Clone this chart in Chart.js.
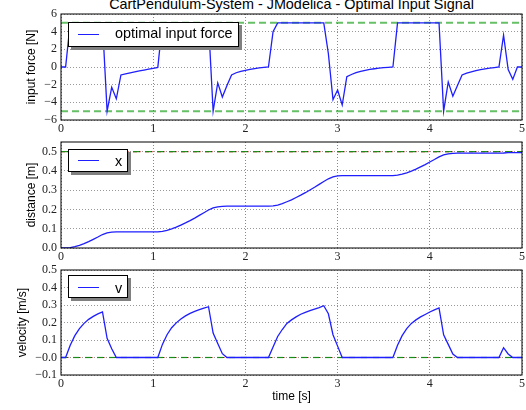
<!DOCTYPE html>
<html lang="en">
<head>
<meta charset="UTF-8">
<title>CartPendulum-System - JModelica - Optimal Input Signal</title>
<script src="https://cdn.jsdelivr.net/npm/chart.js"></script>
<style>
    body {
        margin: 0;
        background: #fff;
        width: 526px;
        height: 410px;
        position: relative;
        overflow: hidden;
        font-family: "Liberation Sans", Arial, sans-serif;
    }
    canvas { position: absolute; left: 0; }
    .title {
        position: absolute;
        left: 61px;
        width: 461px;
        top: -4.5px;
        text-align: center;
        font-size: 14.4px;
        line-height: 17px;
        white-space: nowrap;
    }
    .legend {
        position: absolute;
        left: 68px;
        background: #fff;
        border: 1px solid #000;
        box-shadow: 3px 3px 0 #808080;
        box-sizing: border-box;
        z-index: 2;
    }
    .legend .sample {
        position: absolute;
        left: 9px;
        width: 21px;
        height: 0;
        border-top: 1.3px solid #1e1eff;
    }
    .legend .label {
        position: absolute;
        left: 46px;
        font-size: 14.4px;
        line-height: 17px;
        white-space: nowrap;
    }
</style>
</head>
<body>
    <div class="title">CartPendulum-System - JModelica - Optimal Input Signal</div>
    <canvas id="forceChart" width="526" height="136" style="top:0px"></canvas>
    <canvas id="distanceChart" width="526" height="128" style="top:136px"></canvas>
    <canvas id="velocityChart" width="526" height="146" style="top:264px"></canvas>

    <div class="legend" style="top:22px; width:171px; height:25px;">
        <div class="sample" style="top:11px"></div>
        <div class="label" style="top:2px">optimal input force</div>
    </div>
    <div class="legend" style="top:149px; width:60px; height:23px;">
        <div class="sample" style="top:10px"></div>
        <div class="label" style="top:2.5px">x</div>
    </div>
    <div class="legend" style="top:275px; width:60px; height:23px;">
        <div class="sample" style="top:10.5px"></div>
        <div class="label" style="top:3.5px">v</div>
    </div>

<script>
// time grid [s]
const times = [
    0.00, 0.05, 0.10, 0.15, 0.20, 0.25, 0.30, 0.35, 0.40, 0.45,
    0.50, 0.55, 0.60, 0.65, 0.70, 0.75, 0.80, 0.85, 0.90, 0.95,
    1.00, 1.05, 1.10, 1.15, 1.20, 1.25, 1.30, 1.35, 1.40, 1.45,
    1.50, 1.55, 1.60, 1.65, 1.70, 1.75, 1.80, 1.85, 1.90, 1.95,
    2.00, 2.05, 2.10, 2.15, 2.20, 2.25, 2.30, 2.35, 2.40, 2.45,
    2.50, 2.55, 2.60, 2.65, 2.70, 2.75, 2.80, 2.85, 2.90, 2.95,
    3.00, 3.05, 3.10, 3.15, 3.20, 3.25, 3.30, 3.35, 3.40, 3.45,
    3.50, 3.55, 3.60, 3.65, 3.70, 3.75, 3.80, 3.85, 3.90, 3.95,
    4.00, 4.05, 4.10, 4.15, 4.20, 4.25, 4.30, 4.35, 4.40, 4.45,
    4.50, 4.55, 4.60, 4.65, 4.70, 4.75, 4.80, 4.85, 4.90, 4.95,
    5.00
];

// optimal input force [N]
const force = [
    0, 0, 5, 5, 5, 5, 5, 5, 5, 5,
    -5, -2.3, -3.6, -0.9, -0.78, -0.66, -0.55, -0.45, -0.35, -0.25,
    -0.15, -0.05, 5, 5, 5, 5, 5, 5, 5, 5,
    5, 5, 5, -5, -1.8, -3.4, -2.1, -0.9, -0.65, -0.5,
    -0.37, -0.27, -0.18, -0.1, -0.05, 0, 4, 5, 5, 5,
    5, 5, 5, 5, 5, 5, 5, 5, 1.5, -3.7,
    -2.6, -4.3, -1.1, -0.85, -0.65, -0.5, -0.38, -0.28, -0.2, -0.13,
    -0.08, -0.04, 0, 5, 5, 5, 5, 5, 5, 5,
    5, 5, 5, -5, -1.7, -3.3, -2.1, -0.9, -0.7, -0.55,
    -0.42, -0.3, -0.2, -0.12, -0.06, 0, 3.6, -0.3, -1.4, 0,
    0
];

// cart position x [m]
const distance = [
    0, 0, 0.002, 0.007, 0.014, 0.023, 0.033, 0.045, 0.057, 0.07,
    0.078, 0.082, 0.084, 0.084, 0.084, 0.084, 0.084, 0.084, 0.084, 0.084,
    0.084, 0.084, 0.086, 0.091, 0.099, 0.108, 0.119, 0.13, 0.142, 0.155,
    0.169, 0.183, 0.197, 0.208, 0.213, 0.216, 0.217, 0.217, 0.217, 0.217,
    0.217, 0.217, 0.217, 0.217, 0.217, 0.217, 0.219, 0.223, 0.23, 0.24,
    0.25, 0.262, 0.274, 0.287, 0.301, 0.315, 0.33, 0.345, 0.359, 0.369,
    0.374, 0.376, 0.376, 0.376, 0.376, 0.376, 0.376, 0.376, 0.376, 0.376,
    0.376, 0.376, 0.376, 0.378, 0.383, 0.39, 0.399, 0.409, 0.421, 0.433,
    0.446, 0.459, 0.473, 0.483, 0.488, 0.491, 0.492, 0.492, 0.492, 0.492,
    0.492, 0.492, 0.492, 0.492, 0.492, 0.492, 0.493, 0.495, 0.495, 0.495,
    0.495
];

// cart velocity v [m/s]
const velocity = [
    0, 0, 0.07, 0.125, 0.165, 0.195, 0.218, 0.235, 0.249, 0.26,
    0.11, 0.05, 0, 0, 0, 0, 0, 0, 0, 0,
    0, 0, 0.075, 0.13, 0.17, 0.198, 0.22, 0.238, 0.252, 0.263,
    0.273, 0.282, 0.29, 0.14, 0.08, 0.022, 0, 0, 0, 0,
    0, 0, 0, 0, 0, 0, 0.06, 0.12, 0.16, 0.195,
    0.215, 0.232, 0.247, 0.258, 0.268, 0.277, 0.285, 0.296, 0.25, 0.13,
    0.065, 0, 0, 0, 0, 0, 0, 0, 0, 0,
    0, 0, 0, 0.07, 0.125, 0.165, 0.195, 0.215, 0.232, 0.246,
    0.26, 0.272, 0.283, 0.13, 0.075, 0.02, 0, 0, 0, 0,
    0, 0, 0, 0, 0, 0, 0.056, 0.02, 0, 0,
    0
];

// bounds / targets drawn as reference lines
const forceLimits = [5, -5];
const distanceTarget = [0.5];
const velocityTarget = [0];

const xTicks = [0, 1, 2, 3, 4, 5];

const blue = '#1e1eff';

function series(values) {
    return times.map((t, i) => ({ x: t, y: values[i] }));
}

function hline(value) {
    return [{ x: times[0], y: value }, { x: times[times.length - 1], y: value }];
}

const framePlugin = {
    id: 'frame',
    afterDraw(chart) {
        const { ctx, chartArea: a } = chart;
        ctx.save();
        ctx.strokeStyle = '#000';
        ctx.lineWidth = 1;
        ctx.strokeRect(a.left, a.top, a.right - a.left, a.bottom - a.top);
        ctx.restore();
    }
};

function minusSign(s) {
    return s.replace('-', '\u2212');
}

// green dashed drawn over red dash-dot, like the overlapping matplotlib lines
function targetLines(values) {
    return [
        ...values.map(v => ({
            data: hline(v), borderColor: '#1a8c1a', borderWidth: 1.2, borderDash: [6, 6]
        })),
        ...values.map(v => ({
            data: hline(v), borderColor: '#dd0000', borderWidth: 1.2, borderDash: [4, 2, 1.5, 4.5]
        }))
    ];
}

function makePanel(id, cfg) {
    new Chart(document.getElementById(id), {
        type: 'line',
        data: { datasets: cfg.datasets },
        options: {
            responsive: false,
            animation: false,
            events: [],
            layout: { padding: { top: cfg.padTop, right: 4, left: 0, bottom: 0 } },
            plugins: {
                legend: { display: false },
                tooltip: { enabled: false }
            },
            elements: {
                point: { radius: 0 },
                line: { tension: 0, borderCapStyle: 'butt' }
            },
            scales: {
                x: {
                    type: 'linear',
                    min: xTicks[0],
                    max: xTicks[xTicks.length - 1],
                    afterBuildTicks: (scale) => { scale.ticks = xTicks.map(v => ({ value: v })); },
                    afterFit: (scale) => {
                        scale.height = cfg.xHeight;
                        scale.paddingLeft = 0;
                        scale.paddingRight = 0;
                    },
                    grid: { color: '#888', lineWidth: 1, drawTicks: false },
                    border: { display: false, dash: [1, 2] },
                    ticks: {
                        padding: 2,
                        maxRotation: 0,
                        autoSkip: false,
                        color: '#222',
                        font: { family: 'Liberation Serif', size: 12 },
                        callback: (v) => String(v)
                    },
                    title: {
                        display: !!cfg.xTitle,
                        text: cfg.xTitle || '',
                        color: '#000',
                        font: { family: 'Liberation Sans', size: 12 },
                        padding: { top: 0, bottom: 5.8 }
                    }
                },
                y: {
                    type: 'linear',
                    min: cfg.yMin,
                    max: cfg.yMax,
                    afterFit: (scale) => {
                        scale.width = 61;
                        scale.paddingTop = 0;
                        scale.paddingBottom = 0;
                    },
                    grid: { color: '#999', lineWidth: 1, drawTicks: false },
                    border: { display: false, dash: [1, 2] },
                    ticks: {
                        stepSize: cfg.yStep,
                        includeBounds: false,
                        padding: 4,
                        autoSkip: false,
                        color: '#222',
                        font: { family: 'Liberation Serif', size: 12 },
                        callback: (v) => minusSign(Number(v).toFixed(cfg.decimals))
                    },
                    title: {
                        display: true,
                        text: cfg.yTitle,
                        color: '#000',
                        font: { family: 'Liberation Sans', size: 12 },
                        padding: { top: cfg.yTitlePad, bottom: 0 }
                    }
                }
            }
        },
        plugins: [framePlugin]
    });
}

makePanel('forceChart', {
    padTop: 14, xHeight: 16,
    yMin: -6, yMax: 6, yStep: 2, decimals: 0,
    yTitle: 'input force [N]', yTitlePad: 24,
    datasets: [
        { data: series(force), borderColor: blue, borderWidth: 1.3 },
        ...forceLimits.map(v => ({
            data: hline(v), borderColor: 'rgba(0,150,0,0.6)', borderWidth: 2, borderDash: [7, 4]
        }))
    ]
});

makePanel('distanceChart', {
    padTop: 6, xHeight: 16,
    yMin: 0, yMax: 0.55, yStep: 0.1, decimals: 1,
    yTitle: 'distance [m]', yTitlePad: 24,
    datasets: [
        { data: series(distance), borderColor: blue, borderWidth: 1.3 },
        ...targetLines(distanceTarget)
    ]
});

makePanel('velocityChart', {
    padTop: 6, xHeight: 35, xTitle: 'time [s]',
    yMin: -0.1, yMax: 0.5, yStep: 0.1, decimals: 1,
    yTitle: 'velocity [m/s]', yTitlePad: 15,
    datasets: [
        { data: series(velocity), borderColor: blue, borderWidth: 1.3 },
        ...targetLines(velocityTarget)
    ]
});
</script>
</body>
</html>
